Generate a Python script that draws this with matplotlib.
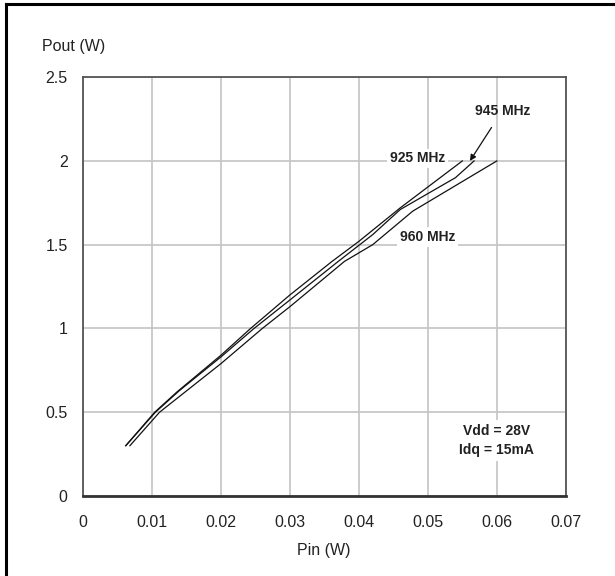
import matplotlib
matplotlib.use("Agg")
import matplotlib.pyplot as plt
from matplotlib.lines import Line2D

plt.rcParams["font.family"] = ["Liberation Sans", "DejaVu Sans"]

# Pout vs Pin at three frequencies
pin_925 = [0.0062, 0.0104, 0.0136, 0.020, 0.0243, 0.030, 0.0361, 0.040, 0.046, 0.055]
pout_925 = [0.30, 0.50, 0.62, 0.84, 1.00, 1.20, 1.40, 1.52, 1.72, 2.00]

pin_945 = [0.0062, 0.0105, 0.014, 0.020, 0.0248, 0.030, 0.037, 0.042, 0.046, 0.054, 0.0567]
pout_945 = [0.30, 0.50, 0.63, 0.83, 1.00, 1.17, 1.40, 1.56, 1.71, 1.90, 2.00]

pin_960 = [0.0068, 0.0111, 0.020, 0.026, 0.030, 0.0379, 0.042, 0.0478, 0.060]
pout_960 = [0.30, 0.50, 0.79, 1.00, 1.13, 1.40, 1.50, 1.70, 2.00]

x_ticks = [0, 0.01, 0.02, 0.03, 0.04, 0.05, 0.06, 0.07]
x_labels = ["0", "0.01", "0.02", "0.03", "0.04", "0.05", "0.06", "0.07"]
y_ticks = [0, 0.5, 1, 1.5, 2, 2.5]
y_labels = ["0", "0.5", "1", "1.5", "2", "2.5"]

fig = plt.figure(figsize=(6.15, 5.76), dpi=100)
ax = fig.add_axes([0.135, 0.139, 0.785, 0.727])

ax.set_xlim(0, 0.07)
ax.set_ylim(0, 2.5)
ax.set_xticks(x_ticks)
ax.set_xticklabels(x_labels)
ax.set_yticks(y_ticks)
ax.set_yticklabels(y_labels)
ax.tick_params(axis="both", length=0, labelsize=11.5, colors="#222222")
ax.tick_params(axis="x", pad=14)
ax.tick_params(axis="y", pad=11)

ax.grid(True, color="#c4c4c4", linewidth=1.2, zorder=0)
ax.set_axisbelow(True)

for side in ["top", "right", "left"]:
    ax.spines[side].set_color("#555555")
    ax.spines[side].set_linewidth(1.3)
ax.spines["bottom"].set_color("#333333")
ax.spines["bottom"].set_linewidth(2.0)

line_kw = dict(color="#111111", linewidth=0.9, zorder=3)
ax.plot(pin_925, pout_925, **line_kw)
ax.plot(pin_945, pout_945, **line_kw)
ax.plot(pin_960, pout_960, **line_kw)

bold = dict(fontsize=10, fontweight="bold", color="#222222", ha="center", va="center", zorder=4)
white_box = dict(facecolor="white", edgecolor="none", pad=2)

ax.text(0.0485, 2.015, "925 MHz", bbox=white_box, **bold)
ax.text(0.0500, 1.547, "960 MHz", bbox=white_box, **bold)
ax.annotate("945 MHz", xy=(0.0561, 2.0), xytext=(0.0608, 2.30),
            arrowprops=dict(arrowstyle="-|>", color="#111111", lw=0.9,
                            mutation_scale=9, shrinkA=6, shrinkB=0),
            **bold)
ax.text(0.060, 0.33, "Vdd = 28V\nIdq = 15mA", linespacing=1.45,
        bbox=dict(facecolor="white", edgecolor="none", pad=3), **bold)

fig.text(42 / 615, 1 - 47 / 576, "Pout (W)", fontsize=11.5, color="#222222",
         ha="left", va="center")
fig.text(324 / 615, 1 - 551 / 576, "Pin (W)", fontsize=11.5, color="#222222",
         ha="center", va="center")

# page frame: top and left edges only
fig.add_artist(Line2D([6 / 615, 1.0], [1 - 4 / 576, 1 - 4 / 576], color="black",
                      linewidth=2.2, transform=fig.transFigure))
fig.add_artist(Line2D([6 / 615, 6 / 615], [0, 1 - 4 / 576], color="black",
                      linewidth=2.2, transform=fig.transFigure))

fig.savefig("out.png", dpi=100)
